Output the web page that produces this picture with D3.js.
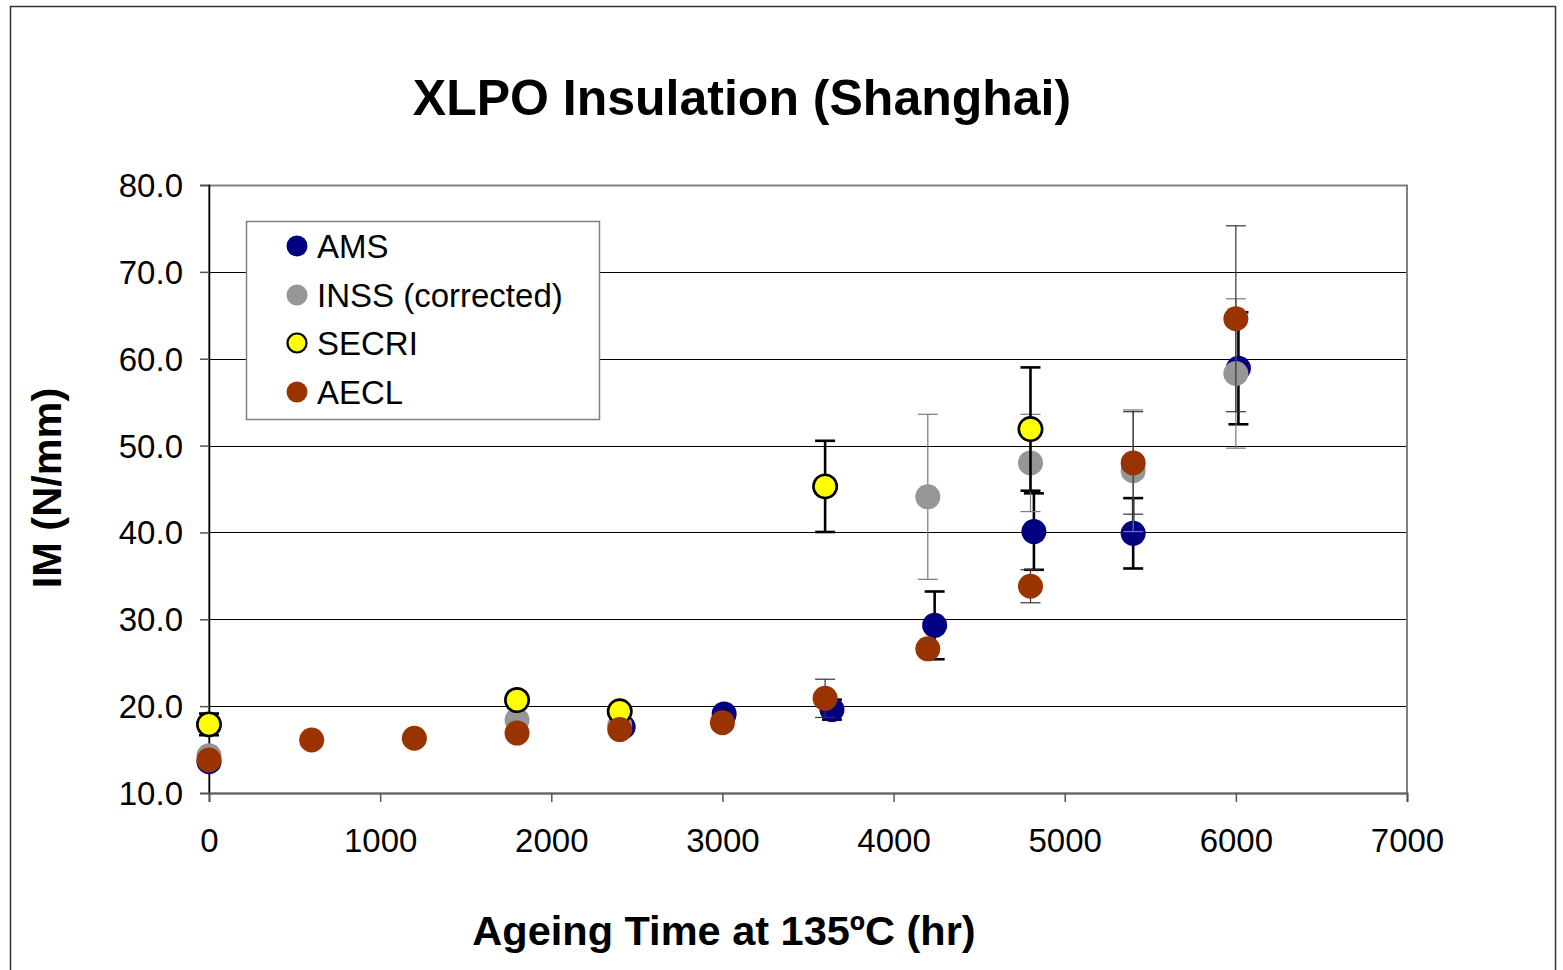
<!DOCTYPE html>
<html>
<head>
<meta charset="utf-8">
<script src="https://cdn.jsdelivr.net/npm/d3@7"></script>
<style>
  html, body { margin: 0; padding: 0; background: #fff; }
  svg { display: block; font-family: "Liberation Sans", Arial, sans-serif; }
</style>
</head>
<body>
<svg id="chart" width="1563" height="970"></svg>
<script>
// Ageing time (hr) and indenter modulus (N/mm) for each lab; err = ± half-width (0 = none)
const amsX   = [0, 2420, 3010, 3640, 4240, 4820, 5400, 6015];
const amsY   = [13.6, 17.6, 19.1, 19.6, 29.3, 40.1, 39.9, 58.9];
const amsErr = [0, 0, 0, 1.15, 3.9, 4.4, 4.05, 6.45];

const inssX   = [0, 1800, 2400, 4200, 4800, 5400, 6000];
const inssY   = [14.3, 18.4, 17.8, 44.1, 48.0, 47.1, 58.3];
const inssErr = [0, 0, 0, 9.5, 5.6, 7.0, 8.6];

const secriX   = [0, 1800, 2400, 3600, 4800];
const secriY   = [17.9, 20.7, 19.4, 45.3, 51.9];
const secriErr = [1.25, 0.9, 0, 5.25, 7.1];

const aeclX   = [0, 600, 1200, 1800, 2400, 3000, 3600, 4200, 4800, 5400, 6000];
const aeclY   = [13.8, 16.1, 16.3, 16.9, 17.3, 18.1, 20.9, 26.6, 33.8, 48.0, 64.6];
const aeclErr = [0, 0, 0, 0, 0, 0, 2.2, 0, 1.9, 5.9, 10.7];

const seriesNames = ["AMS", "INSS (corrected)", "SECRI", "AECL"];
const xTicks = [0, 1000, 2000, 3000, 4000, 5000, 6000, 7000];
const yTicks = [10, 20, 30, 40, 50, 60, 70, 80];

const titleText = "XLPO Insulation (Shanghai)";
const xLabel = "Ageing Time at 135ºC (hr)";
const yLabel = "IM (N/mm)";

// Styling per series
const series = [
  { name: seriesNames[0], xs: amsX, ys: amsY, err: amsErr, fill: "#000080", stroke: "none", sw: 0, errColor: "#000", errW: 2.6 },
  { name: seriesNames[1], xs: inssX, ys: inssY, err: inssErr, fill: "#969696", stroke: "none", sw: 0, errColor: "#7a7a7a", errW: 1.2 },
  { name: seriesNames[2], xs: secriX, ys: secriY, err: secriErr, fill: "#ffff00", stroke: "#000", sw: 2.6, errColor: "#000", errW: 2.6 },
  { name: seriesNames[3], xs: aeclX, ys: aeclY, err: aeclErr, fill: "#993300", stroke: "none", sw: 0, errColor: "#333", errW: 1.2 }
];

const svg = d3.select("#chart");
const plot = { left: 209, top: 185, right: 1407, bottom: 793 };

const x = d3.scaleLinear().domain([0, 7000]).range([plot.left, plot.right]);
const y = d3.scaleLinear().domain([10, 80]).range([plot.bottom, plot.top]);

// Outer chart border
svg.append("rect")
  .attr("x", 10.5).attr("y", 6.5).attr("width", 1545).attr("height", 980)
  .attr("fill", "none").attr("stroke", "#333").attr("stroke-width", 1.5);

// Horizontal gridlines
svg.append("g")
  .selectAll("line")
  .data(yTicks.filter(v => v > 10 && v < 80))
  .join("line")
  .attr("x1", plot.left).attr("x2", plot.right)
  .attr("y1", d => Math.round(y(d)) + 0.5).attr("y2", d => Math.round(y(d)) + 0.5)
  .attr("stroke", "#000").attr("stroke-width", 1);

// Plot area frame
svg.append("rect")
  .attr("x", plot.left).attr("y", plot.top + 0.5)
  .attr("width", plot.right - plot.left).attr("height", plot.bottom - plot.top)
  .attr("fill", "none").attr("stroke", "#808080").attr("stroke-width", 2);

// Y axis
const yAxis = d3.axisLeft(y).tickValues(yTicks).tickFormat(d3.format(".1f")).tickSize(9).tickPadding(17);
const gy = svg.append("g").attr("transform", `translate(${plot.left},0)`).call(yAxis);
gy.select(".domain").attr("stroke", "#000").attr("stroke-width", 1.5);
gy.selectAll(".tick line").attr("stroke", "#555").attr("stroke-width", 1.5);
gy.selectAll(".tick text").attr("font-size", 33).attr("fill", "#000")
  .attr("font-family", "'Liberation Sans', Arial, sans-serif").attr("dy", "0.35em");

// X axis
const xAxis = d3.axisBottom(x).tickValues(xTicks).tickFormat(d3.format("d")).tickSize(9).tickPadding(27);
const gx = svg.append("g").attr("transform", `translate(0,${plot.bottom})`).call(xAxis);
gx.select(".domain").attr("stroke", "#666").attr("stroke-width", 2);
gx.selectAll(".tick line").attr("stroke", "#555").attr("stroke-width", 1.5);
gx.selectAll(".tick text").attr("font-size", 33).attr("fill", "#000")
  .attr("font-family", "'Liberation Sans', Arial, sans-serif");

// Series: error bars first, then markers, series by series
const R = 12.5;
series.forEach(s => {
  const pts = s.xs.map((xv, i) => ({ x: xv, y: s.ys[i], e: s.err[i] }));
  const g = svg.append("g");
  const eb = g.selectAll("g.eb").data(pts.filter(p => p.e > 0)).join("g")
    .attr("stroke", s.errColor).attr("stroke-width", s.errW);
  eb.append("line")
    .attr("x1", d => x(d.x)).attr("x2", d => x(d.x))
    .attr("y1", d => y(d.y + d.e)).attr("y2", d => y(d.y - d.e));
  eb.append("line")
    .attr("x1", d => x(d.x) - 10).attr("x2", d => x(d.x) + 10)
    .attr("y1", d => y(d.y + d.e)).attr("y2", d => y(d.y + d.e));
  eb.append("line")
    .attr("x1", d => x(d.x) - 10).attr("x2", d => x(d.x) + 10)
    .attr("y1", d => y(d.y - d.e)).attr("y2", d => y(d.y - d.e));
  g.selectAll("circle").data(pts).join("circle")
    .attr("cx", d => x(d.x)).attr("cy", d => y(d.y))
    .attr("r", s.sw ? R - s.sw / 2 + 0.5 : R)
    .attr("fill", s.fill).attr("stroke", s.stroke).attr("stroke-width", s.sw);
});

// Legend
const lg = svg.append("g");
lg.append("rect")
  .attr("x", 246.5).attr("y", 221.5).attr("width", 353).attr("height", 198)
  .attr("fill", "#fff").attr("stroke", "#808080").attr("stroke-width", 1.5);
const rowsY = [246, 295, 343, 392];
series.forEach((s, i) => {
  lg.append("circle")
    .attr("cx", 297).attr("cy", rowsY[i])
    .attr("r", s.sw ? 9.5 : 10.5)
    .attr("fill", s.fill).attr("stroke", s.stroke).attr("stroke-width", s.sw ? 2.2 : 0);
  lg.append("text")
    .attr("x", 317).attr("y", rowsY[i]).attr("dy", "0.36em")
    .attr("font-size", 33).attr("fill", "#000")
    .attr("xml:space", "preserve")
    .text(s.name);
});

// Title and axis titles
svg.append("text")
  .attr("x", 742).attr("y", 115).attr("text-anchor", "middle")
  .attr("font-size", 50).attr("font-weight", "bold").text(titleText);

svg.append("text")
  .attr("x", 724).attr("y", 945).attr("text-anchor", "middle")
  .attr("font-size", 41.5).attr("font-weight", "bold").text(xLabel);

svg.append("text")
  .attr("transform", "translate(61,488) rotate(-90)")
  .attr("text-anchor", "middle")
  .attr("font-size", 41.5).attr("font-weight", "bold").text(yLabel);
</script>
</body>
</html>
